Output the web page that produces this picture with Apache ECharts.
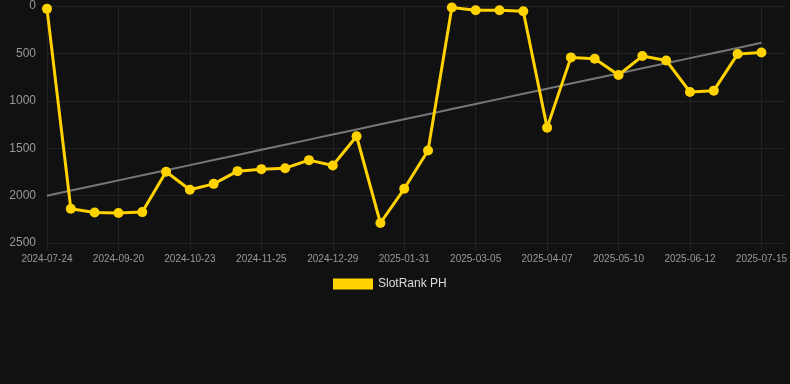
<!DOCTYPE html>
<html>
<head>
<meta charset="utf-8">
<script src="https://cdn.jsdelivr.net/npm/echarts@6/dist/echarts.min.js"></script>
<style>
html,body{margin:0;padding:0;background:#111111;}
#chart{width:790px;height:384px;}
</style>
</head>
<body>
<div id="chart"></div>
<script>
var categories = [
  '2024-07-24','2024-08-13','2024-09-01','2024-09-20','2024-10-01','2024-10-12',
  '2024-10-23','2024-11-03','2024-11-14','2024-11-25','2024-12-06','2024-12-17',
  '2024-12-29','2025-01-09','2025-01-20','2025-01-31','2025-02-11','2025-02-22',
  '2025-03-05','2025-03-16','2025-03-27','2025-04-07','2025-04-18','2025-04-29',
  '2025-05-10','2025-05-21','2025-06-01','2025-06-12','2025-06-23','2025-07-04',
  '2025-07-15',''
];
var rankValues = [
  30, 2139, 2178, 2184, 2174, 1749, 1939, 1876, 1742, 1721, 1711, 1626,
  1683, 1374, 2289, 1928, 1525, 16, 44, 44, 55, 1283, 542, 556,
  728, 528, 574, 907, 893, 507, 490
];
var seriesName = 'SlotRank PH';
var yTicks = { min: 0, max: 2500, interval: 500 };

// least-squares trend over the point index
var n = rankValues.length, sx = 0, sy = 0, sxx = 0, sxy = 0;
for (var i = 0; i < n; i++) { sx += i; sy += rankValues[i]; sxx += i * i; sxy += i * rankValues[i]; }
var slope = (n * sxy - sx * sy) / (n * sxx - sx * sx);
var intercept = (sy - slope * sx) / n;
var trend = rankValues.map(function (v, i) { return intercept + slope * i; });

var chart = echarts.init(document.getElementById('chart'), null, { renderer: 'canvas' });
chart.setOption({
  backgroundColor: '#111111',
  animation: false,
  textStyle: { fontFamily: 'Liberation Sans, Arial, sans-serif' },
  grid: { left: 47, right: 4, top: 6, bottom: 141, containLabel: false },
  legend: {
    show: true,
    data: [seriesName],
    top: 273,
    left: 328,
    icon: 'rect',
    itemWidth: 40,
    itemHeight: 11,
    itemGap: 10,
    textStyle: { color: '#dddddd', fontSize: 12, fontFamily: 'Liberation Sans, Arial, sans-serif' }
  },
  xAxis: {
    type: 'category',
    data: categories,
    boundaryGap: false,
    axisLine: { show: false, onZero: false },
    axisTick: { show: true, interval: 2, length: 8, lineStyle: { color: '#222222' } },
    axisLabel: { interval: 2, color: '#999999', fontSize: 10, margin: 11 },
    splitLine: { show: true, interval: 2, lineStyle: { color: '#222222', width: 1 } }
  },
  yAxis: {
    type: 'value',
    inverse: true,
    min: yTicks.min,
    max: yTicks.max,
    interval: yTicks.interval,
    axisLine: { show: false },
    axisTick: { show: false },
    axisLabel: { color: '#999999', fontSize: 12, margin: 11, formatter: function (v) { return String(v); } },
    splitLine: { show: true, lineStyle: { color: '#222222', width: 1 } }
  },
  series: [
    {
      name: seriesName,
      type: 'line',
      data: rankValues,
      symbol: 'circle',
      symbolSize: 10,
      lineStyle: { color: '#ffd200', width: 3 },
      itemStyle: { color: '#ffd200' },
      z: 3
    },
    {
      name: 'trend',
      type: 'line',
      data: trend,
      symbol: 'none',
      lineStyle: { color: '#777777', width: 2 },
      silent: true,
      z: 2
    }
  ]
});
</script>
</body>
</html>
